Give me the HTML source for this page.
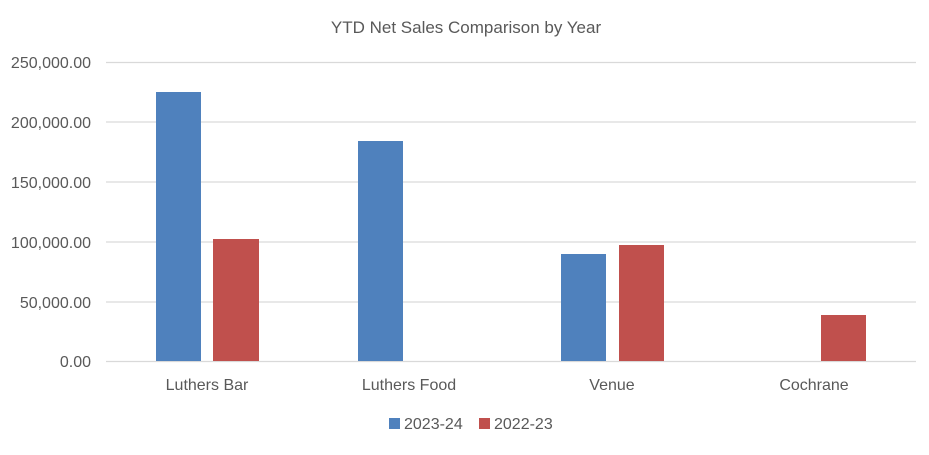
<!DOCTYPE html>
<html><head><style>body{margin:0;background:#fff}</style></head><body>
<svg width="929" height="450" xmlns="http://www.w3.org/2000/svg" font-family="Liberation Sans, sans-serif" fill="#595959">
<rect width="929" height="450" fill="#fff"/>
<text x="466" y="33" text-anchor="middle" font-size="17">YTD Net Sales Comparison by Year</text>
<g stroke="#d9d9d9" stroke-width="1.3">
<line x1="106" x2="916" y1="62.5" y2="62.5"/>
<line x1="106" x2="916" y1="122" y2="122"/>
<line x1="106" x2="916" y1="182" y2="182"/>
<line x1="106" x2="916" y1="242" y2="242"/>
<line x1="106" x2="916" y1="302" y2="302"/>
<line x1="106" x2="916" y1="361.5" y2="361.5"/>
</g>
<g font-size="16" text-anchor="end">
<text x="91" y="68">250,000.00</text>
<text x="91" y="128">200,000.00</text>
<text x="91" y="188">150,000.00</text>
<text x="91" y="248">100,000.00</text>
<text x="91" y="308">50,000.00</text>
<text x="91" y="367">0.00</text>
</g>
<g fill="#4f81bd">
<rect x="156" y="92" width="45" height="269"/>
<rect x="358" y="141" width="45" height="220"/>
<rect x="561" y="254" width="45" height="107"/>
</g>
<g fill="#c0504d">
<rect x="213" y="239" width="46" height="122"/>
<rect x="619" y="245" width="45" height="116"/>
<rect x="821" y="315" width="45" height="46"/>
</g>
<g font-size="16" text-anchor="middle">
<text x="207" y="390">Luthers Bar</text>
<text x="409" y="390">Luthers Food</text>
<text x="612" y="390">Venue</text>
<text x="814" y="390">Cochrane</text>
</g>
<rect x="389" y="418" width="11" height="11" fill="#4f81bd"/>
<text x="404" y="429" font-size="16">2023-24</text>
<rect x="479" y="418" width="11" height="11" fill="#c0504d"/>
<text x="494" y="429" font-size="16">2022-23</text>
</svg>
</body></html>
